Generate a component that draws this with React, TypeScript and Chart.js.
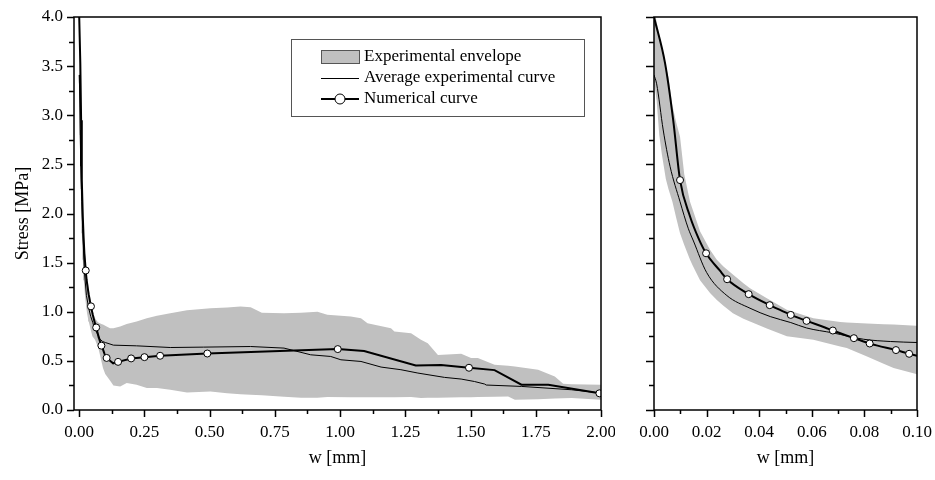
import React, { useEffect, useRef } from 'react';
import { Chart, registerables } from 'chart.js';

Chart.register(...registerables);

// ---------- data ----------
const envW = [0, 0.001, 0.002, 0.003, 0.0045, 0.0055, 0.007, 0.0085, 0.0099, 0.0115, 0.0137, 0.0147, 0.0175, 0.0213, 0.0239, 0.0264, 0.03, 0.034, 0.0365, 0.0429, 0.0505, 0.0606, 0.0708, 0.0733, 0.081, 0.0873, 0.0911, 0.0997, 0.118, 0.131, 0.157, 0.182, 0.22, 0.259, 0.298, 0.349, 0.413, 0.503, 0.567, 0.618, 0.657, 0.7, 0.785, 0.85, 0.913, 0.951, 1.041, 1.08, 1.105, 1.195, 1.208, 1.272, 1.31, 1.336, 1.375, 1.464, 1.502, 1.528, 1.592, 1.644, 1.67, 1.759, 1.823, 1.855, 1.887, 2.0];
const envUpper = [4.1, 3.95, 3.82, 3.68, 3.5, 3.39, 3.1, 2.92, 2.78, 2.4, 2.12, 2.04, 1.82, 1.63, 1.53, 1.46, 1.38, 1.29, 1.24, 1.138, 1.02, 0.935, 0.895, 0.89, 0.88, 0.874, 0.87, 0.857, 0.833, 0.833, 0.85, 0.875, 0.9, 0.935, 0.96, 0.986, 1.015, 1.036, 1.043, 1.053, 1.047, 0.99, 0.986, 0.99, 1.0, 0.969, 0.951, 0.935, 0.884, 0.833, 0.8, 0.78, 0.714, 0.68, 0.56, 0.572, 0.53, 0.528, 0.46, 0.45, 0.443, 0.41, 0.341, 0.267, 0.262, 0.257];
const envLower = [3.35, 3.15, 2.8, 2.6, 2.35, 2.25, 2.12, 1.95, 1.8, 1.68, 1.53, 1.47, 1.32, 1.19, 1.12, 1.06, 0.985, 0.93, 0.9, 0.83, 0.75, 0.714, 0.646, 0.63, 0.545, 0.47, 0.427, 0.366, 0.3, 0.25, 0.24, 0.274, 0.257, 0.225, 0.223, 0.206, 0.179, 0.189, 0.17, 0.16, 0.155, 0.15, 0.135, 0.125, 0.125, 0.132, 0.13, 0.13, 0.13, 0.13, 0.13, 0.132, 0.122, 0.125, 0.125, 0.13, 0.13, 0.132, 0.135, 0.138, 0.105, 0.11, 0.118, 0.12, 0.122, 0.105];

const avgW = [0, 0.001, 0.0035, 0.0061, 0.0099, 0.013, 0.015, 0.02, 0.0277, 0.0365, 0.0442, 0.052, 0.058, 0.068, 0.0797, 0.09, 0.1, 0.131, 0.22, 0.349, 0.477, 0.657, 0.785, 0.887, 0.964, 1.003, 1.08, 1.157, 1.233, 1.298, 1.4, 1.464, 1.515, 1.554, 1.56, 1.695, 1.887, 2.0];
const avgS = [3.41, 3.32, 2.85, 2.48, 2.12, 1.85, 1.72, 1.4, 1.165, 1.036, 0.951, 0.89, 0.835, 0.785, 0.72, 0.697, 0.687, 0.66, 0.653, 0.636, 0.64, 0.646, 0.63, 0.562, 0.545, 0.511, 0.494, 0.437, 0.41, 0.376, 0.332, 0.315, 0.29, 0.264, 0.254, 0.24, 0.206, 0.173];

const numW = [0, 0.0042, 0.0073, 0.0099, 0.0137, 0.0169, 0.0198, 0.025, 0.0278, 0.036, 0.044, 0.045, 0.052, 0.058, 0.065, 0.068, 0.076, 0.082, 0.085, 0.092, 0.097, 0.1, 0.105, 0.13, 0.149, 0.199, 0.25, 0.31, 0.491, 0.991, 1.092, 1.29, 1.387, 1.494, 1.592, 1.695, 1.798, 1.994];
const numS = [4.0, 3.53, 2.95, 2.34, 1.97, 1.75, 1.595, 1.42, 1.331, 1.179, 1.067, 1.055, 0.968, 0.907, 0.84, 0.809, 0.731, 0.677, 0.655, 0.61, 0.572, 0.552, 0.53, 0.475, 0.49, 0.525, 0.538, 0.552, 0.575, 0.62, 0.6, 0.453, 0.457, 0.43, 0.406, 0.257, 0.257, 0.17];

const leftMarkers = [0.025, 0.045, 0.065, 0.085, 0.105, 0.149, 0.199, 0.25, 0.31, 0.491, 0.991, 1.494, 1.994];
const rightMarkers = [0.0099, 0.0198, 0.0278, 0.036, 0.044, 0.052, 0.058, 0.068, 0.076, 0.082, 0.092, 0.097];

const yMajorTicks = [0, 0.5, 1.0, 1.5, 2.0, 2.5, 3.0, 3.5, 4.0];
const yMinorTicks = [0.25, 0.75, 1.25, 1.75, 2.25, 2.75, 3.25, 3.75];
const leftXMajorTicks = [0, 0.25, 0.5, 0.75, 1.0, 1.25, 1.5, 1.75, 2.0];
const leftXMinorTicks = [0.125, 0.375, 0.625, 0.875, 1.125, 1.375, 1.625, 1.875];
const rightXMajorTicks = [0, 0.02, 0.04, 0.06, 0.08, 0.1];
const rightXMinorTicks = [0.01, 0.03, 0.05, 0.07, 0.09];

const legendLabels = ['Experimental envelope', 'Average experimental curve', 'Numerical curve'];

const FONT = "'Liberation Serif', 'Times New Roman', serif";
const GRAY = '#c0c0c0';

const pts = (xs: number[], ys: number[]) => xs.map((x, i) => ({ x, y: ys[i] }));

function makeDatasets(markers: number[], smooth: boolean) {
  const interp = smooth ? 'monotone' : 'default';
  return [
    {
      label: legendLabels[2],
      data: pts(numW, numS),
      borderColor: '#000',
      borderWidth: 2,
      pointRadius: (c: any) => (markers.includes(numW[c.dataIndex]) ? 3.5 : 0),
      pointBackgroundColor: '#fff',
      pointBorderColor: '#000',
      pointBorderWidth: 1,
      fill: false,
      tension: 0,
      cubicInterpolationMode: interp,
      clip: 0,
    },
    {
      label: legendLabels[1],
      data: pts(avgW, avgS),
      borderColor: '#000',
      borderWidth: 1,
      pointRadius: 0,
      fill: false,
      tension: 0,
      cubicInterpolationMode: interp,
      clip: 0,
    },
    {
      label: 'lower',
      data: pts(envW, envLower),
      borderWidth: 0,
      borderColor: 'rgba(0,0,0,0)',
      pointRadius: 0,
      fill: false,
      clip: 0,
    },
    {
      label: legendLabels[0],
      data: pts(envW, envUpper),
      borderWidth: 0,
      borderColor: 'rgba(0,0,0,0)',
      backgroundColor: GRAY,
      pointRadius: 0,
      fill: '-1',
      clip: 0,
    },
  ];
}

function framePlugin(xMajor: number[], xMinor: number[], yMajLen: number, yMinLen: number) {
  return {
    id: 'frameTicks',
    afterDraw(chart: any) {
      const { ctx, chartArea } = chart;
      const { left, right, top, bottom } = chartArea;
      const xs = chart.scales.x;
      const ys = chart.scales.y;
      ctx.save();
      ctx.strokeStyle = '#000';
      ctx.lineWidth = 1.5;
      ctx.strokeRect(left, top, right - left, bottom - top);
      ctx.beginPath();
      xMajor.forEach((v) => {
        const p = Math.round(xs.getPixelForValue(v)) + 0.5;
        ctx.moveTo(p, bottom);
        ctx.lineTo(p, bottom + 7);
      });
      xMinor.forEach((v) => {
        const p = Math.round(xs.getPixelForValue(v)) + 0.5;
        ctx.moveTo(p, bottom);
        ctx.lineTo(p, bottom + 4);
      });
      yMajorTicks.forEach((v) => {
        const p = Math.round(ys.getPixelForValue(v)) + 0.5;
        ctx.moveTo(left, p);
        ctx.lineTo(left - yMajLen, p);
      });
      yMinorTicks.forEach((v) => {
        const p = Math.round(ys.getPixelForValue(v)) + 0.5;
        ctx.moveTo(left, p);
        ctx.lineTo(left - yMinLen, p);
      });
      ctx.stroke();
      ctx.restore();
    },
  };
}

const legendPlugin = {
  id: 'customLegend',
  afterDraw(chart: any) {
    const { ctx } = chart;
    ctx.save();
    ctx.strokeStyle = '#555';
    ctx.lineWidth = 1;
    ctx.strokeRect(291.5, 39.5, 293, 77);
    ctx.fillStyle = GRAY;
    ctx.fillRect(321, 50, 38, 13);
    ctx.strokeStyle = '#555';
    ctx.strokeRect(321.5, 50.5, 38, 13);
    ctx.strokeStyle = '#000';
    ctx.lineWidth = 1;
    ctx.beginPath();
    ctx.moveTo(321, 78.5);
    ctx.lineTo(359, 78.5);
    ctx.stroke();
    ctx.lineWidth = 2;
    ctx.beginPath();
    ctx.moveTo(321, 99);
    ctx.lineTo(359, 99);
    ctx.stroke();
    ctx.beginPath();
    ctx.arc(340, 99, 5, 0, Math.PI * 2);
    ctx.fillStyle = '#fff';
    ctx.fill();
    ctx.lineWidth = 1;
    ctx.stroke();
    ctx.fillStyle = '#000';
    ctx.font = `17px ${FONT}`;
    ctx.textBaseline = 'middle';
    ctx.textAlign = 'left';
    ctx.fillText(legendLabels[0], 364, 57);
    ctx.fillText(legendLabels[1], 364, 78);
    ctx.fillText(legendLabels[2], 364, 99);
    ctx.restore();
  },
};

function baseOptions(xMin: number, xMax: number, xTicks: number[], xDigits: number, showY: boolean, yWidth: number, padRight: number) {
  return {
    responsive: false,
    animation: false as const,
    events: [] as any[],
    layout: { padding: { left: 0, right: padRight, top: 17, bottom: 0 } },
    plugins: {
      legend: { display: false },
      tooltip: { enabled: false },
      filler: { drawTime: 'beforeDatasetsDraw' as const },
    },
    scales: {
      x: {
        type: 'linear' as const,
        min: xMin,
        max: xMax,
        afterBuildTicks: (s: any) => {
          s.ticks = xTicks.map((v) => ({ value: v }));
        },
        afterFit: (s: any) => {
          s.height = 70;
          s.paddingLeft = 0;
          s.paddingRight = 0;
          s.paddingTop = 0;
          s.paddingBottom = 0;
        },
        grid: { display: false, drawTicks: false },
        border: { display: false },
        ticks: {
          autoSkip: false,
          maxRotation: 0,
          padding: 12,
          color: '#000',
          font: { family: FONT, size: 17 },
          callback: (v: any) => Number(v).toFixed(xDigits),
        },
        title: {
          display: true,
          text: 'w [mm]',
          color: '#000',
          font: { family: FONT, size: 18 },
          padding: { top: 0, bottom: 11 },
        },
      },
      y: {
        type: 'linear' as const,
        min: 0,
        max: 4,
        afterBuildTicks: (s: any) => {
          s.ticks = yMajorTicks.map((v) => ({ value: v }));
        },
        afterFit: (s: any) => {
          s.width = yWidth;
          s.paddingLeft = 0;
          s.paddingRight = 0;
          s.paddingTop = 0;
          s.paddingBottom = 0;
        },
        grid: { display: false, drawTicks: false },
        border: { display: false },
        ticks: {
          display: showY,
          padding: 11,
          color: '#000',
          font: { family: FONT, size: 17 },
          callback: (v: any) => Number(v).toFixed(1),
        },
        title: {
          display: showY,
          text: 'Stress [MPa]',
          color: '#000',
          font: { family: FONT, size: 18 },
          padding: { top: 12, bottom: 0 },
        },
      },
    },
  };
}

export default function App() {
  const leftRef = useRef<HTMLCanvasElement>(null);
  const rightRef = useRef<HTMLCanvasElement>(null);

  useEffect(() => {
    Chart.defaults.font.family = FONT;
    const left = new Chart(leftRef.current as HTMLCanvasElement, {
      type: 'line',
      data: { datasets: makeDatasets(leftMarkers, false) as any },
      options: baseOptions(-0.02, 2.0, leftXMajorTicks, 2, true, 74, 14) as any,
      plugins: [framePlugin(leftXMajorTicks, leftXMinorTicks, 7, 5), legendPlugin],
    });
    const right = new Chart(rightRef.current as HTMLCanvasElement, {
      type: 'line',
      data: { datasets: makeDatasets(rightMarkers, true) as any },
      options: baseOptions(0, 0.1, rightXMajorTicks, 2, false, 39, 18) as any,
      plugins: [framePlugin(rightXMajorTicks, rightXMinorTicks, 8, 5)],
    });
    return () => {
      left.destroy();
      right.destroy();
    };
  }, []);

  return (
    <div style={{ position: 'fixed', left: 0, top: 0, width: 935, height: 480, background: '#fff' }}>
      <canvas ref={leftRef} width={615} height={480} style={{ position: 'absolute', left: 0, top: 0 }} />
      <canvas ref={rightRef} width={320} height={480} style={{ position: 'absolute', left: 615, top: 0 }} />
    </div>
  );
}
